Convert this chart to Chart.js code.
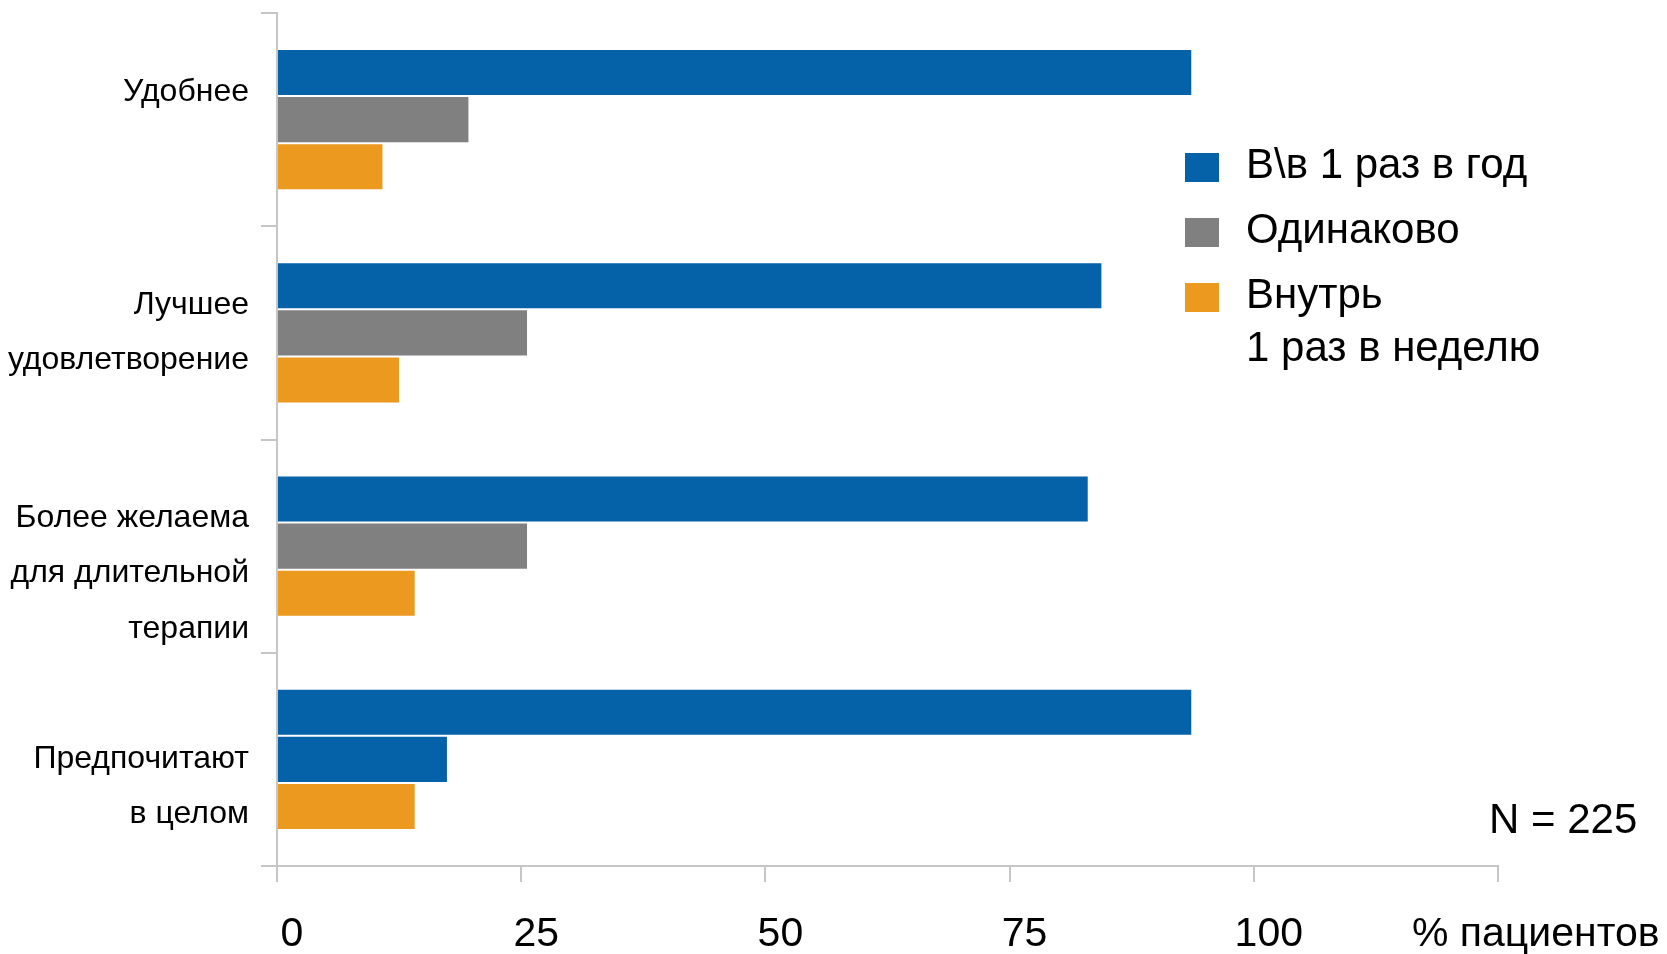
<!DOCTYPE html>
<html lang="ru">
<head>
<meta charset="utf-8">
<title>Предпочтения пациентов</title>
<script src="https://cdn.jsdelivr.net/npm/chart.js@4/dist/chart.umd.min.js"></script>
<style>
  html, body { margin:0; padding:0; background:#fff; }
  #wrap { position:relative; width:1667px; height:954px; font-family:'Liberation Sans', Arial, sans-serif; color:#000; }
  #legend { position:absolute; left:1185px; top:137px; }
  .item { display:flex; align-items:flex-start; margin-bottom:12px; }
  .box { width:34px; height:29px; margin-top:16px; margin-right:27px; }
  .txt { font-size:42px; line-height:53px; }
  #note { position:absolute; left:1489px; top:794px; font-size:42px; line-height:50px; }
</style>
</head>
<body>
<div id="wrap">
  <canvas id="chart"></canvas>
  <div id="legend"></div>
  <div id="note">N = 225</div>
</div>
<script>
// ===== データ =====
const categories = [
  ['Удобнее'],
  ['Лучшее', 'удовлетворение'],
  ['Более желаема', 'для длительной', 'терапии'],
  ['Предпочитают', 'в целом']
];
const seriesNames = [['В\\в 1 раз в год'], ['Одинаково'], ['Внутрь', '1 раз в неделю']];
const ivYearly = [93.7, 84.5, 83.1, 93.7];
const same = [19.7, 25.7, 25.7, 17.5];
const oralWeekly = [10.9, 12.6, 14.2, 14.2];
const xTicks = [0, 25, 50, 75, 100];
const xUnit = '% пациентов';

// ===== 色 =====
const BLUE = '#0561a8';
const GRAY = '#808080';
const ORANGE = '#ec9a1f';
const AXIS = '#c6c6c6';
const sameColors = [GRAY, GRAY, GRAY, BLUE]; // последняя полоса синяя как в оригинале

// ラベルの上下位置の微調整 (空行)
const blankBefore = [0, 0, 1, 1];
const blankAfter = [1, 0, 0, 0];

const datasets = [
  { label: seriesNames[0], data: ivYearly, backgroundColor: BLUE },
  { label: seriesNames[1], data: same, backgroundColor: sameColors },
  { label: seriesNames[2], data: oralWeekly, backgroundColor: ORANGE }
].map(d => Object.assign(d, {
  borderColor: '#ffffff', borderWidth: 1, borderSkipped: 'start',
  categoryPercentage: 0.663, barPercentage: 1
}));

const FONT = "'Liberation Sans', Arial, sans-serif";

new Chart(document.getElementById('chart'), {
  type: 'bar',
  data: { labels: categories.map((c, i) => c.join(' ')), datasets },
  options: {
    indexAxis: 'y',
    responsive: true,
    maintainAspectRatio: false,
    animation: false,
    layout: { padding: { top: 13, right: 169, left: 0, bottom: 0 } },
    plugins: { legend: { display: false }, tooltip: { enabled: false } },
    scales: {
      y: {
        z: 1,
        border: { color: AXIS, width: 2 },
        grid: { drawOnChartArea: false, color: AXIS, lineWidth: 2, tickLength: 16 },
        ticks: {
          color: '#000', padding: 12, autoSkip: false,
          font: { family: FONT, size: 32, lineHeight: 1.72 },
          callback: (v, i) => {
            const lines = categories[i].slice();
            for (let k = 0; k < blankBefore[i]; k++) lines.unshift('');
            for (let k = 0; k < blankAfter[i]; k++) lines.push('');
            return lines;
          }
        },
        afterFit: s => { s.width = 277; s.paddingTop = 0; s.paddingBottom = 0; }
      },
      x: {
        min: 0, max: 125,
        border: { color: AXIS, width: 2 },
        grid: { drawOnChartArea: false, color: AXIS, lineWidth: 2, tickLength: 16 },
        ticks: {
          stepSize: 25, autoSkip: false, maxRotation: 0,
          color: '#000', padding: 28, labelOffset: 15,
          font: { family: FONT, size: 41 },
          callback: v => xTicks.includes(v) ? String(v) : '    ' + xUnit
        },
        afterFit: s => { s.height = 88; s.paddingLeft = 0; s.paddingRight = 0; }
      }
    }
  }
});

// ===== 凡例 =====
const legend = document.getElementById('legend');
datasets.forEach((d, i) => {
  const item = document.createElement('div');
  item.className = 'item';
  const box = document.createElement('div');
  box.className = 'box';
  box.style.background = [BLUE, GRAY, ORANGE][i];
  const txt = document.createElement('div');
  txt.className = 'txt';
  txt.innerHTML = seriesNames[i].join('<br>');
  item.appendChild(box);
  item.appendChild(txt);
  legend.appendChild(item);
});
</script>
</body>
</html>
